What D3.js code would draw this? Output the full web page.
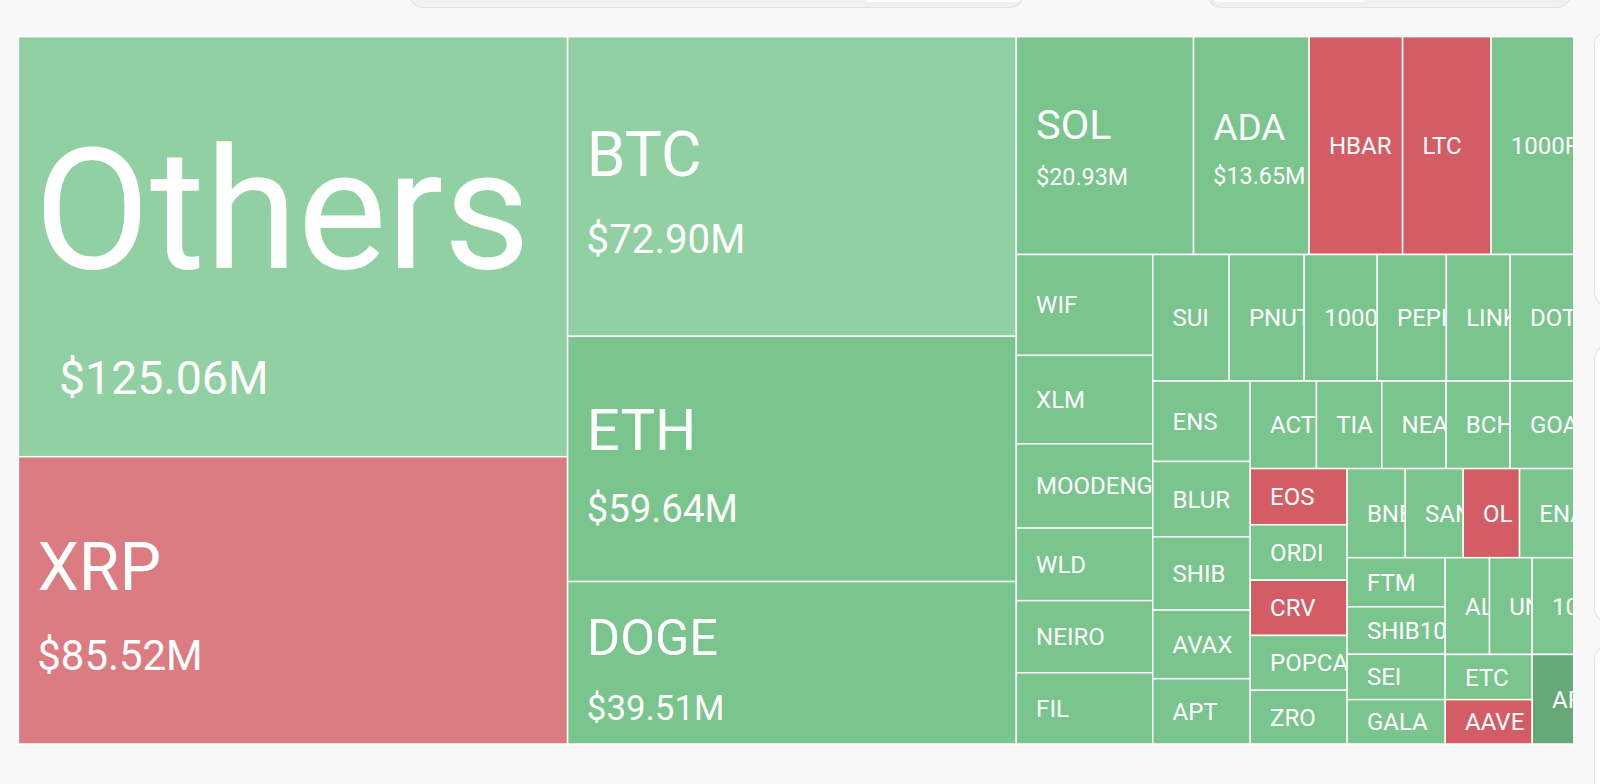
<!DOCTYPE html>
<html>
<head>
<meta charset="utf-8">
<script src="https://cdn.jsdelivr.net/npm/d3@7"></script>
<style>
  html, body { margin: 0; padding: 0; background: #f8f8f8; }
  svg { display: block; }
</style>
</head>
<body>
<svg id="chart" width="1600" height="784"></svg>
<script>
// ---- data (liquidations, $M) ----
const symbols = ["Others","XRP","BTC","ETH","DOGE","SOL","ADA","HBAR","LTC","1000PEPE",
  "WIF","XLM","MOODENG","WLD","NEIRO","FIL","SUI","PNUT","1000BONK","PEPE","LINK","DOT",
  "ENS","BLUR","SHIB","AVAX","APT","ACT","TIA","NEAR","BCH","GOAT","EOS","ORDI","CRV",
  "POPCAT","ZRO","BNB","SAND","OL","ENA","FTM","SHIB1000","SEI","GALA","ALGO","UNI",
  "1000SATS","ETC","AAVE","ARB"];
const liquidations = [125.06,85.52,72.90,59.64,39.51,20.93,13.65,11.04,10.45,9.77,
  7.46,6.54,6.23,5.37,5.33,5.27,5.24,5.15,5.01,4.74,4.38,4.36,
  4.25,3.98,3.87,3.63,3.45,3.14,3.10,3.05,3.04,3.02,2.95,2.91,2.90,
  2.88,2.82,2.81,2.80,2.72,2.62,2.61,2.53,2.41,2.36,2.32,2.24,
  2.18,2.13,2.09,2.02];
// trend bucket: -2 strong down, -1 mild down, 1 mild up, 2 up, 3 strong up
const trend = [1,-1,1,2,2,2,2,-2,-2,2,
  2,2,2,2,2,2,2,2,2,2,2,2,
  2,2,2,2,2,2,2,2,2,2,-2,2,-2,
  2,2,2,2,-2,2,2,2,2,2,2,2,
  2,2,-2,3];

// ---- layout constants ----
const X0 = 18.4, Y0 = 36.6, W = 1555.4, H = 707.4;
const svg = d3.select("#chart");

const color = d3.scaleOrdinal()
  .domain([-2, -1, 1, 2, 3])
  .range(["#d45d65", "#db7c82", "#91d0a3", "#7ac48d", "#66a878"]);

// ---- decorative page chrome (panels above / right of the chart) ----
const chrome = svg.append("g");
chrome.append("rect").attr("x", 410).attr("y", -30).attr("width", 613).attr("height", 37.5)
  .attr("rx", 13).attr("fill", "#eff0f4").attr("stroke", "#e2e2e6").attr("stroke-width", 1.2);
chrome.append("rect").attr("x", 866).attr("y", -20).attr("width", 154).attr("height", 22)
  .attr("rx", 3).attr("fill", "#ffffff");
chrome.append("rect").attr("x", 1208).attr("y", -30).attr("width", 362).attr("height", 37.5)
  .attr("rx", 13).attr("fill", "#eff0f4").attr("stroke", "#e2e2e6").attr("stroke-width", 1.2);
chrome.append("rect").attr("x", 1214).attr("y", -20).attr("width", 151).attr("height", 22)
  .attr("rx", 3).attr("fill", "#ffffff");
[[31, 306], [345, 622], [646, 830]].forEach(([a, b]) => {
  chrome.append("rect").attr("x", 1594.5).attr("y", a).attr("width", 40).attr("height", b - a)
    .attr("rx", 14).attr("fill", "#ffffff").attr("stroke", "#e4e4e6").attr("stroke-width", 1.2);
});

// ---- treemap ----
const data = {
  name: "root",
  children: symbols.map((s, i) => ({ name: s, value: liquidations[i], trend: trend[i] }))
};
const root = d3.hierarchy(data)
  .sum(d => d.children ? 0 : d.value)
  .sort((a, b) => b.value - a.value);

d3.treemap()
  .tile(d3.treemapSquarify)
  .size([W, H])(root);

const fmt = v => "$" + d3.format(".2f")(v) + "M";
const FONT = "Roboto, 'Noto Sans', Arial, sans-serif";

const g = svg.append("g").attr("transform", `translate(${X0},${Y0})`);
const cells = g.selectAll("g.cell")
  .data(root.leaves())
  .join("g")
  .attr("class", "cell")
  .attr("transform", d => `translate(${d.x0},${d.y0})`);

cells.append("clipPath")
  .attr("id", (d, i) => "clip" + i)
  .append("rect")
  .attr("width", d => Math.max(0, d.x1 - d.x0 - 1))
  .attr("height", d => Math.max(0, d.y1 - d.y0));

cells.append("rect")
  .attr("width", d => d.x1 - d.x0)
  .attr("height", d => d.y1 - d.y0)
  .attr("fill", d => color(d.data.trend))
  .attr("stroke", "#ffffff")
  .attr("stroke-width", 1.5);

const labels = cells.append("g").attr("clip-path", (d, i) => `url(#clip${i})`);
const PAD = 21;

labels.each(function (d) {
  const el = d3.select(this);
  const w = d.x1 - d.x0, h = d.y1 - d.y0;
  const cy = h / 2;
  const v = d.data.value;
  const isOthers = d.data.name === "Others";
  if (v >= 12) {
    const fN = isOthers ? w * 0.306 : 17.5 + 5.25 * Math.sqrt(v);
    const fV = v >= 30 ? 20 + 2.37 * Math.sqrt(v) : 23.3;
    const nameBase = isOthers ? cy + 0.125 * fN : cy - 0.16 * fN;
    const valBase = isOthers ? nameBase + 0.75 * fN : nameBase + 0.39 * fN + 1.3 * fV;
    el.append("text")
      .attr("x", PAD - 0.03 * fN)
      .attr("y", nameBase)
      .attr("font-family", FONT)
      .attr("font-size", fN)
      .attr("fill", "#fff")
      .text(d.data.name);
    el.append("text")
      .attr("x", PAD - 0.05 * fV + (isOthers ? 0.13 * fN : 0))
      .attr("y", valBase)
      .attr("font-family", FONT)
      .attr("font-size", fV)
      .attr("fill", "#fff")
      .text(fmt(v));
  } else {
    const f = 24;
    el.append("text")
      .attr("x", PAD - 1.2)
      .attr("y", cy + 0.355 * f)
      .attr("font-family", FONT)
      .attr("font-size", f)
      .attr("fill", "#fff")
      .text(d.data.name);
  }
});
</script>
</body>
</html>
